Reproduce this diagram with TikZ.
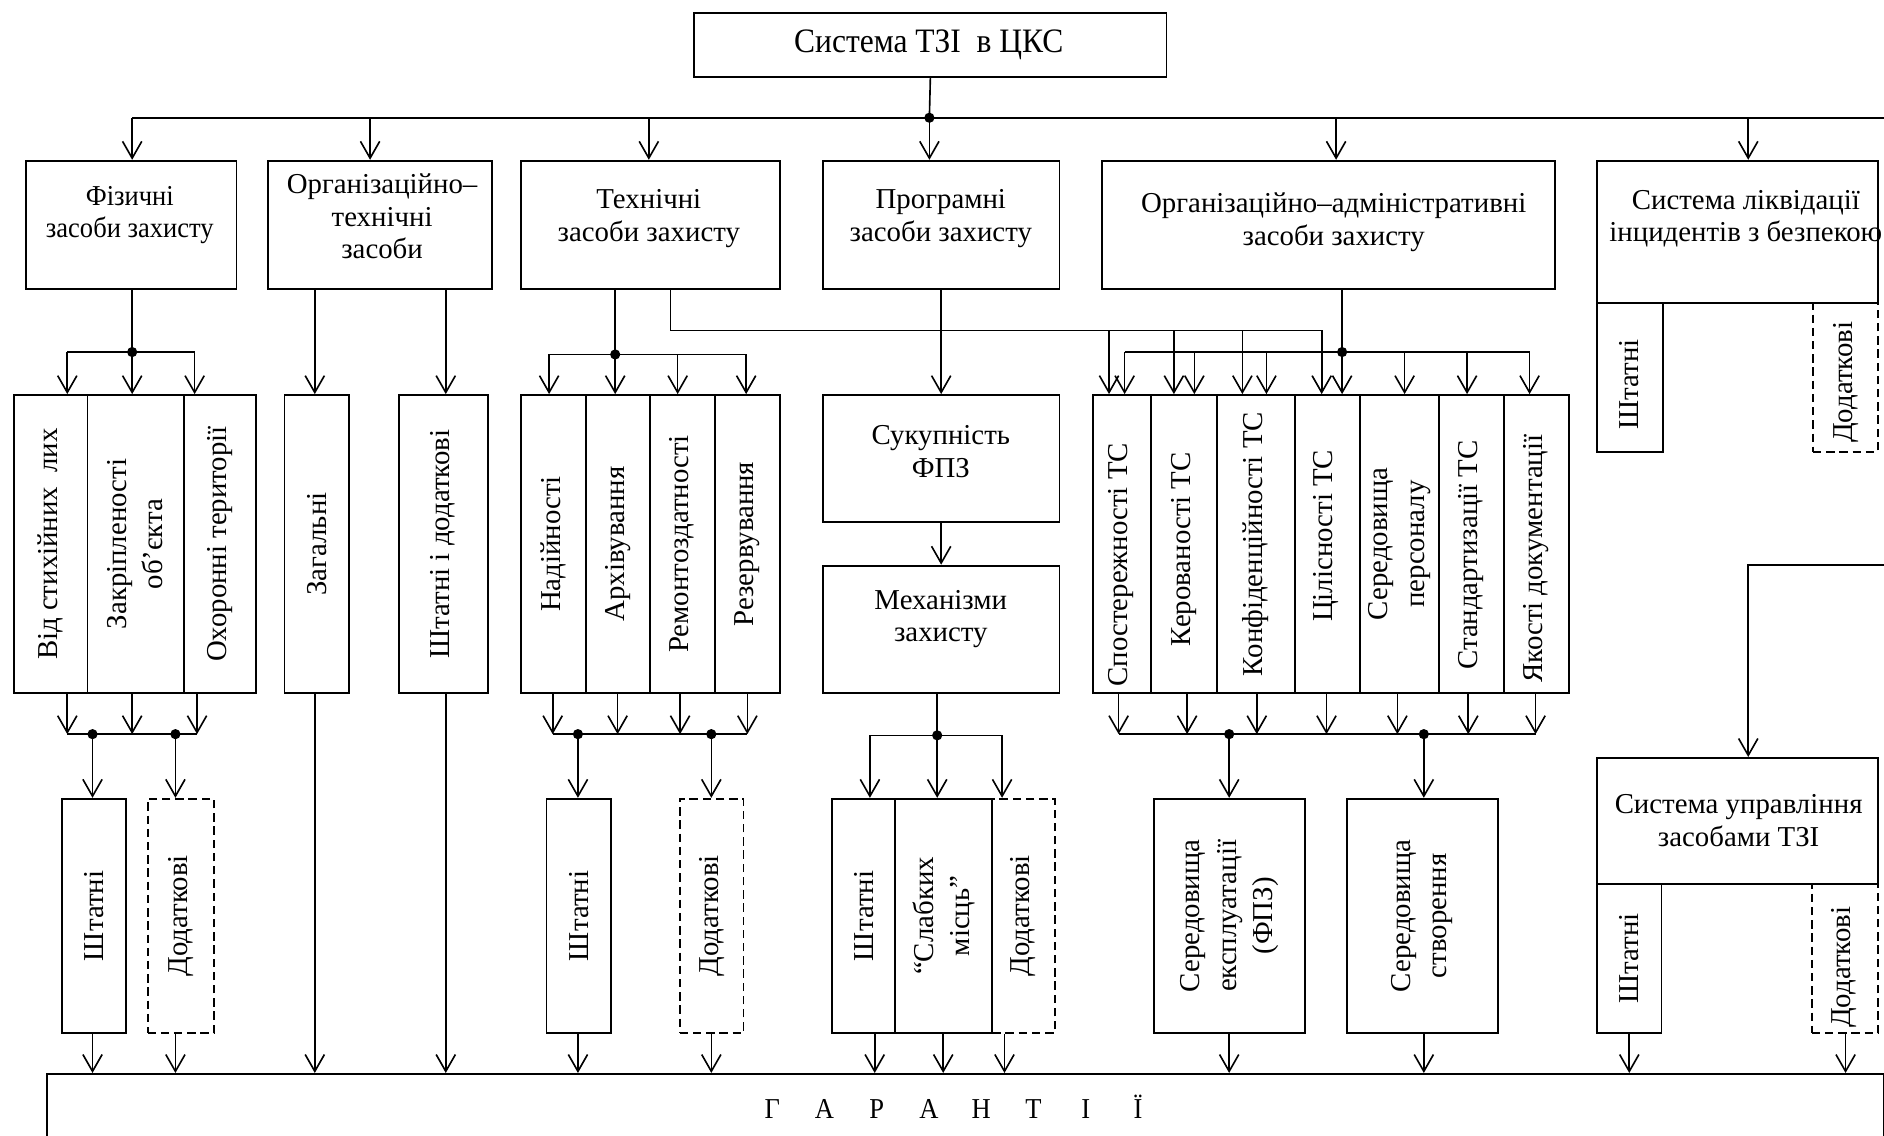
\documentclass[tikz,border=0pt]{standalone}
\usepackage{fontspec}
\setmainfont{Liberation Serif}
\newfontfamily\hfont{Liberation Serif}[FakeStretch=0.92]
\usetikzlibrary{arrows.meta}

% box given by its name and its corners (x1,y1) (x2,y2)
\newcommand\bx[6][box]{%
  \node[#1, minimum width={#5-#3}, minimum height={#6-#4}] (#2) at (#3,#4) {};}

\tikzset{
  box/.style={draw, line width=1.6pt, inner sep=0pt, anchor=north west},
  dbox/.style={box, dash pattern=on 7pt off 4pt},
  htext/.style={font=\fontsize{24}{27}\selectfont, align=center, inner sep=0pt},
  ntext/.style={font=\hfont\fontsize{24}{26.5}\selectfont, align=center, inner sep=0pt},
  ttext/.style={font=\hfont\fontsize{28.5}{30}\selectfont, align=center, inner sep=0pt},
  vtext/.style={font=\fontsize{24}{30}\selectfont, align=center, inner sep=0pt, rotate=90},
  conn/.style={line width=1.35pt},
  arr/.style={conn, -{Straight Barb[length=14pt,width=16pt]}},
  dot/.style={circle, fill, inner sep=0pt, minimum size=8.5pt},
}

\begin{document}
\begin{tikzpicture}[x=1pt, y=-1pt]
\useasboundingbox (0,0) rectangle (1568,945);
\clip (0,0) rectangle (1568,945);

% ---------- boxes (dashed ones first, so solid neighbours stay on top)
\bx[dbox]{lD}{1508}{251}{1562}{375}
\bx[dbox]{fzD}{122}{664}{177}{859}
\bx[dbox]{tD}{565}{664}{618}{859}
\bx[dbox]{pD}{825}{664}{877}{859}
\bx[dbox]{uD}{1507}{735}{1562}{859}

\bx{top}{577}{10}{970}{63}
\bx{fiz}{21}{133}{196}{240}
\bx{ot}{222}{133}{409}{240}
\bx{tech}{433}{133}{648}{240}
\bx{prog}{684}{133}{881}{240}
\bx{oa}{916}{133}{1293}{240}
\bx{lik}{1328}{133}{1562}{251}
\bx{lS}{1328}{251}{1383}{375}

\bx{fz1}{11}{328}{72}{576}
\bx{fz2}{72}{328}{152}{576}
\bx{fz3}{152}{328}{212}{576}
\bx{fzS}{51}{664}{104}{859}

\bx{ot1}{236}{328}{290}{576}
\bx{ot2}{331}{328}{405}{576}

\bx{t1}{433}{328}{487}{576}
\bx{t2}{487}{328}{540}{576}
\bx{t3}{540}{328}{594}{576}
\bx{t4}{594}{328}{648}{576}
\bx{tS}{454}{664}{508}{859}

\bx{pr1}{684}{328}{881}{434}
\bx{pr2}{684}{470}{881}{576}
\bx{pS}{692}{664}{744}{859}
\bx{pW}{744}{664}{825}{859}

\bx{o1}{909}{328}{957}{576}
\bx{o2}{957}{328}{1012}{576}
\bx{o3}{1012}{328}{1077}{576}
\bx{o4}{1077}{328}{1131}{576}
\bx{o5}{1131}{328}{1197}{576}
\bx{o6}{1197}{328}{1251}{576}
\bx{o7}{1251}{328}{1305}{576}
\bx{oE}{960}{664}{1085}{859}
\bx{oC}{1120}{664}{1246}{859}

\bx{upr}{1328}{630}{1562}{735}
\bx{uS}{1328}{735}{1382}{859}

\bx{gar}{38}{893}{1567}{990}

% ---------- texts
\node[ttext] (ttop) at (773,37) {Система ТЗІ~~в ЦКС};
\node[ntext] (tfiz) at (108,179) {Фізичні\\засоби захисту};
\node[htext] (tot) at (318,180) {Організаційно–\\технічні\\засоби};
\node[htext] (ttech) at (540,182) {Технічні\\засоби захисту};
\node[htext] (tprog) at (783,182) {Програмні\\засоби захисту};
\node[htext] (toa) at (1110,185) {Організаційно–адміністративні\\засоби захисту};
\node[htext] (tlik) at (1453,182) {Система ліквідації\\інцидентів з безпекою};
\node[vtext] (tlS) at (1356,320) {Штатні};
\node[vtext] (tlD) at (1536,318) {Додаткові};

\node[vtext] (tfz1) at (fz1.center) {Від стихійних~~лих};
\node[vtext] (tfz2) at (fz2.center) {Закріпленості\\об’єкта};
\node[vtext] (tfz3) at (fz3.center) {Охоронні території};
\node[vtext] (tfzS) at (fzS.center) {Штатні};
\node[vtext] (tfzD) at (fzD.center) {Додаткові};

\node[vtext] (tot1) at (ot1.center) {Загальні};
\node[vtext] (tot2) at (ot2.center) {Штатні і додаткові};

\node[vtext] (tt1) at (t1.center) {Надійності};
\node[vtext] (tt2) at (t2.center) {Архівування};
\node[vtext] (tt3) at (t3.center) {Ремонтоздатності};
\node[vtext] (tt4) at (t4.center) {Резервування};
\node[vtext] (ttS) at (tS.center) {Штатні};
\node[vtext] (ttD) at (tD.center) {Додаткові};

\node[htext] (tpr1) at (783,376) {Сукупність\\ФПЗ};
\node[htext] (tpr2) at (783,515) {Механізми\\захисту};
\node[vtext] (tpS) at (pS.center) {Штатні};
\node[vtext] (tpW) at (pW.center) {“Слабких\\місць”};
\node[vtext] (tpD) at (pD.center) {Додаткові};

\node[vtext] (to1) at (933,470) {Спостережності ТС};
\node[vtext] (to2) at (985,457) {Керованості ТС};
\node[vtext] (to3) at (o3.center) {Конфіденційності ТС};
\node[vtext] (to4) at (1104,446) {Цілісності ТС};
\node[vtext] (to5) at (o5.center) {Середовища\\персоналу};
\node[vtext] (to6) at (1224,462) {Стандартизації ТС};
\node[vtext] (to7) at (1278,465) {Якості документації};
\node[vtext] (toE) at (oE.center) {Середовища\\експлуатації\\(ФПЗ)};
\node[vtext] (toC) at (oC.center) {Середовища\\створення};

\node[htext] (tupr) at (1447,683) {Система управління\\засобами ТЗІ};
\node[vtext] (tuS) at (uS.center) {Штатні};
\node[vtext] (tuD) at (1535,805) {Додаткові};

\node[ntext, font=\hfont\fontsize{24}{26}\selectfont] (tgar) at (795,921)
  {\makebox[43.5pt]{Г}\makebox[43.5pt]{А}\makebox[43.5pt]{Р}\makebox[43.5pt]{А}%
   \makebox[43.5pt]{Н}\makebox[43.5pt]{Т}\makebox[43.5pt]{І}\makebox[43.5pt]{Ї}};

% ---------- main bus
\coordinate (j0) at (773.5,98);
\coordinate (busL) at (110,98);
\coordinate (busR) at (1568,98);
\draw[conn] (top.south) -- (j0);
\draw[conn] (busL) -- (busR);
\node[dot] (dj0) at (j0) {};
\foreach \x/\n in {110/fiz,308/ot,540/tech,773.5/prog,1112/oa,1455/lik}
  \draw[arr] (\x,98) -- (\n.north -| \x,0);

% ---------- physical means
\coordinate (jf) at (110,293);
\draw[conn] (fiz.south -| jf) -- (jf);
\draw[conn] (56,293) -- (162,293);
\node[dot] (djf) at (jf) {};
\foreach \x in {56,110,162} \draw[arr] (\x,293) -- (fz1.north -| \x,0);
\foreach \x in {56,110,164} \draw[arr] (fz1.south -| \x,0) -- (\x,611);
\coordinate (jfa) at (77,611);
\coordinate (jfb) at (146,611);
\draw[conn] (56,611) -- (164,611);
\node[dot] (djfa) at (jfa) {};
\node[dot] (djfb) at (jfb) {};
\draw[arr] (jfa) -- (fzS.north -| jfa);
\draw[arr] (jfb) -- (fzD.north -| jfb);
\draw[arr] (fzS.south -| jfa) -- (gar.north -| jfa);
\draw[arr] (fzD.south -| jfb) -- (gar.north -| jfb);

% ---------- organisational-technical means
\foreach \x in {262,371} {
  \draw[arr] (ot.south -| \x,0) -- (ot1.north -| \x,0);
  \draw[arr] (ot1.south -| \x,0) -- (gar.north -| \x,0);
}

% ---------- technical means
\coordinate (jt) at (512,295);
\draw[conn] (tech.south -| jt) -- (jt);
\draw[conn] (457,295) -- (621,295);
\node[dot] (djt) at (jt) {};
\foreach \x in {457,512,564,621} \draw[arr] (\x,295) -- (t1.north -| \x,0);
\foreach \x in {460,514,566,622} \draw[arr] (t1.south -| \x,0) -- (\x,611);
\coordinate (jta) at (481,611);
\coordinate (jtb) at (592,611);
\draw[conn] (460,611) -- (622,611);
\node[dot] (djta) at (jta) {};
\node[dot] (djtb) at (jtb) {};
\draw[arr] (jta) -- (tS.north -| jta);
\draw[arr] (jtb) -- (tD.north -| jtb);
\draw[arr] (tS.south -| jta) -- (gar.north -| jta);
\draw[arr] (tD.south -| jtb) -- (gar.north -| jtb);

% technical means also feed the organisational-administrative group
\draw[arr] (tech.south -| 558,0) |- (1100,275) -- (o4.north -| 1100,0);
\foreach \x in {923,977,1034} \draw[arr] (\x,275) -- (o1.north -| \x,0);

% ---------- software means
\draw[arr] (prog.south -| pr1.north) -- (pr1.north);
\draw[arr] (pr1.south) -- (pr2.north);
\coordinate (jp) at (780,612);
\draw[conn] (pr2.south -| jp) -- (jp);
\draw[conn] (724,612) -- (834,612);
\node[dot] (djp) at (jp) {};
\foreach \x in {724,780,834} \draw[arr] (\x,612) -- (pS.north -| \x,0);
\foreach \x in {728,785,836} \draw[arr] (pS.south -| \x,0) -- (gar.north -| \x,0);

% ---------- organisational-administrative means
\coordinate (jo) at (1117,293);
\draw[conn] (oa.south -| jo) -- (jo);
\draw[conn] (936,293) -- (1273,293);
\node[dot] (djo) at (jo) {};
\foreach \x in {936,994,1054,1117,1169,1221,1273} \draw[arr] (\x,293) -- (o1.north -| \x,0);
\foreach \x in {931,988,1046,1104,1163,1222,1278} \draw[arr] (o1.south -| \x,0) -- (\x,611);
\coordinate (joa) at (1023,611);
\coordinate (job) at (1185,611);
\draw[conn] (931,611) -- (1278,611);
\node[dot] (djoa) at (joa) {};
\node[dot] (djob) at (job) {};
\draw[arr] (joa) -- (oE.north -| joa);
\draw[arr] (job) -- (oC.north -| job);
\draw[arr] (oE.south -| joa) -- (gar.north -| joa);
\draw[arr] (oC.south -| job) -- (gar.north -| job);

% ---------- management system
\coordinate (mR) at (1568,470);
\draw[arr] (mR) -| (upr.north -| 1455,0);
\draw[arr] (uS.south -| 1356,0) -- (gar.north -| 1356,0);
\draw[arr] (uD.south -| 1536,0) -- (gar.north -| 1536,0);
\end{tikzpicture}
\end{document}
